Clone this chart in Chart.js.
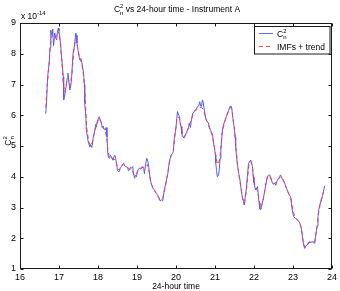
<!DOCTYPE html>
<html>
<head>
<meta charset="utf-8">
<script src="https://cdn.jsdelivr.net/npm/chart.js@4/dist/chart.umd.min.js"></script>
<style>
  html, body { margin: 0; padding: 0; background: #fff; }
</style>
</head>
<body>
<canvas id="chart" width="340" height="291"></canvas>
<script>
const xTicks = [16, 17, 18, 19, 20, 21, 22, 23, 24]
const yTicks = [1, 2, 3, 4, 5, 6, 7, 8, 9]

// C_n^2 (units of 1e-14)
const timeC2n = [
  16.66, 16.68, 16.70, 16.72, 16.75, 16.77, 16.79, 16.82, 16.84, 16.86, 16.88, 16.89, 16.92, 16.94, 16.96, 16.98,
  17.00, 17.04, 17.06, 17.08, 17.11, 17.12, 17.14, 17.17, 17.19, 17.21, 17.23, 17.25, 17.28, 17.30, 17.32, 17.34,
  17.36, 17.39, 17.43, 17.45, 17.46, 17.49, 17.53, 17.56, 17.59, 17.63, 17.65, 17.66, 17.69, 17.70, 17.74, 17.76,
  17.79, 17.81, 17.84, 17.86, 17.88, 17.92, 17.94, 17.96, 17.98, 18.03, 18.06, 18.09, 18.11, 18.13, 18.16, 18.19,
  18.21, 18.23, 18.25, 18.27, 18.30, 18.32, 18.34, 18.36, 18.38, 18.41, 18.43, 18.45, 18.48, 18.50, 18.54, 18.57,
  18.60, 18.63, 18.66, 18.68, 18.72, 18.76, 18.78, 18.81, 18.83, 18.86, 18.89, 18.91, 18.94, 18.96, 18.99, 19.01,
  19.06, 19.10, 19.13, 19.17, 19.19, 19.22, 19.25, 19.28, 19.30, 19.34, 19.39, 19.42, 19.45, 19.47, 19.50, 19.53,
  19.56, 19.59, 19.63, 19.66, 19.68, 19.70, 19.74, 19.79, 19.83, 19.87, 19.91, 19.93, 19.96, 20.00, 20.02, 20.04,
  20.07, 20.09, 20.11, 20.13, 20.15, 20.17, 20.21, 20.24, 20.26, 20.28, 20.30, 20.32, 20.34, 20.37, 20.39, 20.43,
  20.46, 20.49, 20.52, 20.55, 20.58, 20.61, 20.63, 20.65, 20.68, 20.70, 20.72, 20.75, 20.77, 20.80, 20.83, 20.86,
  20.90, 20.94, 20.95, 20.98, 21.01, 21.02, 21.04, 21.06, 21.09, 21.11, 21.13, 21.15, 21.17, 21.19, 21.22, 21.26,
  21.29, 21.32, 21.35, 21.38, 21.41, 21.43, 21.46, 21.49, 21.52, 21.53, 21.55, 21.57, 21.61, 21.64, 21.67, 21.70,
  21.73, 21.75, 21.77, 21.80, 21.83, 21.86, 21.89, 21.92, 21.94, 21.96, 21.98, 22.00, 22.04, 22.09, 22.11, 22.13,
  22.15, 22.17, 22.19, 22.21, 22.24, 22.28, 22.31, 22.34, 22.37, 22.40, 22.44, 22.47, 22.50, 22.53, 22.56, 22.60,
  22.64, 22.68, 22.72, 22.77, 22.81, 22.85, 22.89, 22.94, 22.97, 23.00, 23.02, 23.06, 23.11, 23.15, 23.19, 23.23,
  23.25, 23.28, 23.30, 23.33, 23.36, 23.39, 23.42, 23.46, 23.49, 23.52, 23.56, 23.58, 23.62, 23.64, 23.66, 23.69,
  23.73, 23.76, 23.79, 23.81
]
const c2n = [
  6.05, 6.40, 7.05, 7.40, 7.70, 8.20, 8.77, 8.60, 8.80, 8.25, 8.50, 8.67, 8.50, 8.45, 8.70, 8.83,
  8.75, 8.35, 8.00, 7.70, 7.25, 6.50, 6.60, 6.82, 7.00, 7.20, 7.37, 7.10, 6.82, 6.95, 7.15, 7.60,
  8.02, 8.20, 8.67, 8.60, 8.35, 8.10, 7.80, 7.85, 7.70, 7.37, 7.00, 6.40, 5.90, 5.52, 5.20, 5.10,
  4.97, 5.05, 4.95, 5.10, 5.30, 5.52, 5.70, 5.62, 5.80, 5.95, 5.85, 5.75, 5.60, 5.65, 5.55, 5.52,
  5.60, 5.30, 4.77, 4.62, 4.60, 4.70, 4.66, 4.60, 4.54, 4.65, 4.70, 4.60, 4.40, 4.20, 4.16, 4.30,
  4.33, 4.40, 4.44, 4.35, 4.33, 4.30, 4.20, 4.22, 4.30, 4.28, 4.33, 4.10, 3.95, 4.05, 4.00, 4.20,
  4.28, 4.25, 4.33, 4.30, 4.10, 4.40, 4.60, 4.50, 4.33, 3.90, 3.68, 3.60, 3.57, 3.50, 3.45, 3.40,
  3.30, 3.22, 3.25, 3.22, 3.40, 3.57, 3.80, 4.10, 4.50, 4.70, 4.75, 4.82, 5.30, 5.60, 5.90, 6.12,
  6.00, 5.95, 5.70, 5.63, 5.40, 5.30, 5.26, 5.35, 5.42, 5.50, 5.52, 5.60, 5.75, 5.60, 5.80, 6.07,
  6.10, 6.17, 6.20, 6.28, 6.30, 6.44, 6.30, 6.28, 6.50, 6.40, 6.23, 6.00, 5.85, 5.80, 5.75, 5.60,
  5.47, 5.36, 5.20, 4.98, 4.70, 4.44, 4.20, 4.00, 4.05, 4.22, 4.60, 4.87, 5.20, 5.52, 5.70, 5.85,
  5.95, 6.07, 6.15, 6.28, 6.30, 6.23, 5.90, 5.63, 5.30, 4.98, 4.70, 4.44, 4.10, 3.90, 3.60, 3.35,
  3.20, 3.08, 3.30, 3.57, 4.00, 4.44, 4.50, 4.54, 4.45, 4.33, 4.00, 3.80, 3.57, 3.68, 3.40, 3.14,
  2.95, 2.92, 3.00, 3.14, 3.30, 3.57, 3.80, 4.00, 4.05, 4.06, 3.95, 3.80, 3.75, 3.80, 3.72, 3.90,
  3.95, 4.06, 3.95, 3.84, 3.70, 3.57, 3.45, 3.35, 3.00, 2.80, 2.70, 2.65, 2.60, 2.55, 2.45, 2.20,
  1.94, 1.75, 1.67, 1.75, 1.78, 1.85, 1.89, 1.85, 1.90, 1.85, 1.84, 2.10, 2.40, 2.70, 2.92, 3.10,
  3.25, 3.40, 3.57, 3.70
]

// IMFs + trend reconstruction
const timeImf = [
  16.66, 16.70, 16.74, 16.78, 16.82, 16.87, 16.92, 16.97, 17.02, 17.07, 17.11, 17.15, 17.20, 17.24, 17.28, 17.33,
  17.38, 17.43, 17.48, 17.53, 17.58, 17.63, 17.67, 17.71, 17.76, 17.81, 17.86, 17.92, 17.97, 18.02, 18.07, 18.12,
  18.18, 18.22, 18.26, 18.30, 18.35, 18.40, 18.45, 18.50, 18.55, 18.60, 18.66, 18.71, 18.76, 18.81, 18.86, 18.91,
  18.96, 19.01, 19.06, 19.12, 19.17, 19.22, 19.27, 19.32, 19.37, 19.45, 19.52, 19.60, 19.66, 19.73, 19.78, 19.83,
  19.88, 19.93, 19.98, 20.03, 20.09, 20.14, 20.19, 20.24, 20.29, 20.34, 20.39, 20.44, 20.49, 20.55, 20.60, 20.65,
  20.70, 20.75, 20.80, 20.85, 20.90, 20.95, 20.99, 21.03, 21.07, 21.11, 21.15, 21.18, 21.24, 21.29, 21.34, 21.39,
  21.43, 21.46, 21.50, 21.54, 21.58, 21.62, 21.67, 21.72, 21.76, 21.80, 21.84, 21.87, 21.92, 21.96, 22.00, 22.05,
  22.09, 22.13, 22.17, 22.21, 22.26, 22.31, 22.36, 22.41, 22.46, 22.51, 22.56, 22.61, 22.68, 22.73, 22.78, 22.84,
  22.89, 22.95, 23.00, 23.05, 23.10, 23.15, 23.20, 23.25, 23.30, 23.35, 23.41, 23.46, 23.51, 23.56, 23.61, 23.66,
  23.71, 23.76, 23.81
]
const imfTrend = [
  6.25, 7.00, 7.60, 8.30, 8.60, 8.50, 8.55, 8.75, 8.50, 7.80, 7.00, 6.75, 7.10, 7.20, 6.95, 7.30,
  8.10, 8.50, 8.20, 7.85, 7.70, 7.30, 6.60, 5.60, 5.15, 5.00, 5.15, 5.50, 5.70, 5.90, 5.80, 5.60,
  5.50, 5.30, 4.80, 4.62, 4.60, 4.58, 4.55, 4.30, 4.20, 4.35, 4.40, 4.35, 4.30, 4.25, 4.25, 4.10,
  4.05, 4.15, 4.25, 4.30, 4.30, 4.35, 4.40, 4.10, 3.75, 3.55, 3.40, 3.25, 3.30, 3.70, 4.05, 4.45,
  4.70, 4.85, 5.40, 5.95, 5.90, 5.55, 5.30, 5.35, 5.50, 5.65, 5.85, 6.05, 6.15, 6.20, 6.25, 6.25,
  6.20, 5.95, 5.80, 5.60, 5.45, 5.25, 4.95, 4.60, 4.40, 4.50, 4.90, 5.40, 5.75, 5.95, 6.10, 6.25,
  6.20, 5.90, 5.50, 4.90, 4.40, 4.00, 3.60, 3.20, 3.15, 3.50, 4.00, 4.40, 4.50, 4.30, 3.85, 3.60,
  3.55, 3.25, 3.00, 3.10, 3.40, 3.80, 4.05, 4.00, 3.85, 3.78, 3.80, 3.90, 4.00, 3.95, 3.80, 3.60,
  3.45, 3.30, 2.90, 2.70, 2.60, 2.55, 2.40, 2.00, 1.70, 1.75, 1.85, 1.88, 1.88, 1.90, 2.30, 2.85,
  3.20, 3.40, 3.65
]

const FONT = '"Liberation Sans", Arial, Helvetica, sans-serif'
const pts = (xs, ys) => xs.map((x, i) => ({ x, y: ys[i] }))

// draws runs like [{t:'C'}, {sub:'n', sup:'2'}, {t:' vs ...'}]
function richWidth(ctx, parts, size) {
  let w = 0
  parts.forEach(p => {
    if (p.t) { ctx.font = size + 'px ' + FONT; w += ctx.measureText(p.t).width }
    else {
      ctx.font = (size * 0.7) + 'px ' + FONT
      w += Math.max(ctx.measureText(p.sub || '').width, ctx.measureText(p.sup || '').width)
    }
  })
  return w
}
function drawRich(ctx, parts, x, y, size, align) {
  let cx = x
  if (align === 'center') cx = x - richWidth(ctx, parts, size) / 2
  ctx.textBaseline = 'alphabetic'
  ctx.textAlign = 'left'
  parts.forEach(p => {
    if (p.t) {
      ctx.font = size + 'px ' + FONT
      ctx.fillText(p.t, cx, y)
      cx += ctx.measureText(p.t).width
    } else {
      ctx.font = (size * 0.7) + 'px ' + FONT
      if (p.sup) ctx.fillText(p.sup, cx, y - size * 0.42)
      if (p.sub) ctx.fillText(p.sub, cx, y + size * 0.3)
      cx += Math.max(ctx.measureText(p.sub || '').width, ctx.measureText(p.sup || '').width)
    }
  })
}

const frame = {
  id: 'frame',
  afterDraw(chart) {
    const { ctx, chartArea: a, scales } = chart
    ctx.save()
    ctx.strokeStyle = '#1a1a1a'
    ctx.lineWidth = 1
    const L = Math.round(a.left) + 0.5, R = Math.round(a.right) - 0.5
    const T = Math.round(a.top) + 0.5, B = Math.round(a.bottom) - 0.5
    ctx.strokeRect(L, T, R - L, B - T)
    ctx.beginPath()
    xTicks.forEach(v => {
      const px = Math.round(scales.x.getPixelForValue(v)) + 0.5
      ctx.moveTo(px, B); ctx.lineTo(px, B - 3)
      ctx.moveTo(px, T); ctx.lineTo(px, T + 3)
    })
    yTicks.forEach(v => {
      const py = Math.round(scales.y.getPixelForValue(v)) + 0.5
      ctx.moveTo(L, py); ctx.lineTo(L + 3, py)
      ctx.moveTo(R, py); ctx.lineTo(R - 3, py)
    })
    ctx.stroke()

    ctx.fillStyle = '#000'
    // title
    drawRich(ctx, [{ t: 'C' }, { sub: 'n', sup: '2' }, { t: ' vs 24-hour time - Instrument A' }], 177, 12, 8.5, 'center')
    // exponent
    drawRich(ctx, [{ t: 'x 10' }, { sup: '-14' }], 21, 19, 8.5, 'left')
    // x label
    drawRich(ctx, [{ t: '24-hour time' }], 176, 289, 8.5, 'center')
    // y label
    ctx.save()
    ctx.translate(11, 141)
    ctx.rotate(-Math.PI / 2)
    drawRich(ctx, [{ t: 'C' }, { sub: 'n', sup: '2' }], 0, 0, 8.5, 'center')
    ctx.restore()

    // legend
    ctx.fillStyle = '#fff'
    ctx.fillRect(254.5, 26.5, 75.5, 27.5)
    ctx.strokeStyle = '#1a1a1a'
    ctx.strokeRect(254.5, 26.5, 75.5, 27.5)
    ctx.strokeStyle = '#5b6bff'
    ctx.beginPath(); ctx.moveTo(259, 33.5); ctx.lineTo(273, 33.5); ctx.stroke()
    ctx.strokeStyle = '#ff4a4a'
    ctx.setLineDash([4, 3])
    ctx.beginPath(); ctx.moveTo(259, 46.5); ctx.lineTo(273, 46.5); ctx.stroke()
    ctx.setLineDash([])
    ctx.fillStyle = '#000'
    drawRich(ctx, [{ t: 'C' }, { sub: 'n', sup: '2' }], 277, 36.5, 8.5, 'left')
    drawRich(ctx, [{ t: 'IMFs + trend' }], 277, 50, 8.5, 'left')
    ctx.restore()
  }
}

const tickFont = { family: FONT, size: 9 }

new Chart(document.getElementById('chart'), {
  type: 'line',
  data: {
    datasets: [
      { label: 'IMFs + trend', data: pts(timeImf, imfTrend), borderColor: '#ff3b3b', borderWidth: 1, borderDash: [4, 3], pointRadius: 0, tension: 0, order: 0 },
      { label: 'C_n^2', data: pts(timeC2n, c2n), borderColor: '#4d5eff', borderWidth: 1, pointRadius: 0, tension: 0, order: 1 }
    ]
  },
  options: {
    responsive: false,
    animation: false,
    devicePixelRatio: 1,
    layout: { padding: { top: 23, right: 7, left: 0, bottom: 0 } },
    plugins: { legend: { display: false }, title: { display: false }, tooltip: { enabled: false } },
    scales: {
      x: {
        type: 'linear', min: 16, max: 24,
        afterFit: s => { s.height = 22 },
        afterBuildTicks: s => { s.ticks = xTicks.map(v => ({ value: v })) },
        grid: { display: false, drawTicks: false },
        border: { display: false },
        ticks: { color: '#000', font: tickFont, padding: 3, maxRotation: 0, autoSkip: false }
      },
      y: {
        type: 'linear', min: 1, max: 9,
        afterFit: s => { s.width = 20 },
        afterBuildTicks: s => { s.ticks = yTicks.map(v => ({ value: v })) },
        grid: { display: false, drawTicks: false },
        border: { display: false },
        ticks: { color: '#000', font: tickFont, padding: 4, autoSkip: false }
      }
    }
  },
  plugins: [frame]
})
</script>
</body>
</html>
